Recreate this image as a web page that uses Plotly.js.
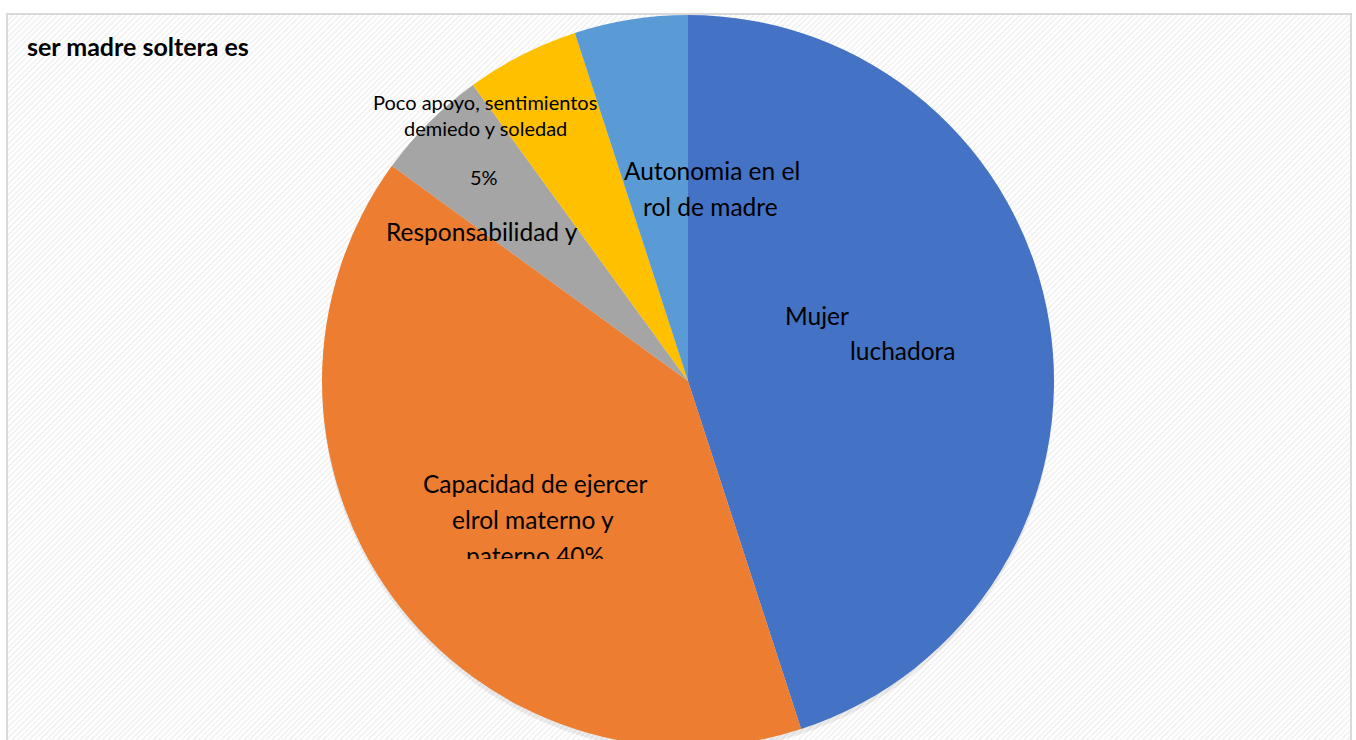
<!DOCTYPE html>
<html><head><meta charset="utf-8">
<script src="https://cdn.plot.ly/plotly-3.0.1.min.js"></script>
<style>
html,body{margin:0;padding:0;width:1356px;height:740px;overflow:hidden;background:#fff}
#frame{position:absolute;left:6px;top:13px;width:1342px;height:760px;border:2px solid #d9d9d9;
background:repeating-linear-gradient(-45deg,#ffffff 0px,#ffffff 2px,#f4f4f4 2px,#f4f4f4 4px);}
#chart{position:absolute;left:0;top:0;width:1356px;height:760px}
</style></head>
<body><div id="frame"></div><div id="chart"></div>
<script>
// Data
const categories = ["Mujer luchadora", "Capacidad de ejercer el rol materno y paterno",
  "Responsabilidad y", "Poco apoyo, sentimientos de miedo y soledad", "Autonomia en el rol de madre"];
const values = [45, 40, 5, 5, 5];
const titleText = "ser madre soltera es";
// Label text lines as shown in the picture
const labelMujer = ["Mujer", "luchadora"];
const labelCapacidad = ["Capacidad de ejercer", "elrol materno y", "paterno 40%"];
const labelResp = ["Responsabilidad y"];
const labelPoco = ["Poco apoyo, sentimientos", "demiedo y soledad"];
const labelPct = ["5%"];
const labelAuto = ["Autonomia en el", "rol de madre"];

const sliceColors = ["#4472C4", "#ED7D31", "#A5A5A5", "#FFC000", "#5B9BD5"];

const W = 1356, H = 760;
const FONT = "Lato, 'Open Sans', sans-serif";
function px(x){return x / W;}
function py(y){return 1 - y / H;}
function ann(text, x, y, size, extra){
  return Object.assign({text: text, x: px(x), y: py(y), xref: 'paper', yref: 'paper',
    xanchor: 'center', yanchor: 'middle', showarrow: false,
    font: {family: FONT, size: size, color: '#000'}}, extra || {});
}
const cx = 688, cy = 381, r = 366;
const BIG = 24.5, SMALL = 20;

const annotations = [
  ann(titleText, 25, 46, 25, {xanchor: 'left', font: {family: FONT, size: 25, color: '#000', weight: 'bold'}}),
  ann(labelPoco[0], 485, 102, SMALL),
  ann(labelPoco[1], 485, 128, SMALL),
  ann(labelPct[0], 484, 177, SMALL),
  ann(labelResp[0], 482, 231, BIG),
  ann(labelAuto[0], 712, 170, BIG),
  ann(labelAuto[1], 710, 206, BIG),
  ann(labelMujer[0], 817, 316, BIG),
  ann(labelMujer[1], 903, 350, BIG),
  ann(labelCapacidad[0], 535, 483, BIG),
  ann(labelCapacidad[1], 533, 519, BIG),
  ann(labelCapacidad[2], 535, 548, BIG, {yanchor: 'top', y: py(539), height: 18, valign: 'top'})
];

const trace = {
  type: 'pie',
  labels: categories,
  values: values,
  sort: false,
  direction: 'clockwise',
  rotation: 0,
  textinfo: 'none',
  hoverinfo: 'none',
  marker: {colors: sliceColors, line: {width: 0}},
  domain: {x: [px(cx - r), px(cx + r)], y: [py(cy + r), py(cy - r)]},
  showlegend: false
};

const layout = {
  width: W, height: H,
  margin: {l: 0, r: 0, t: 0, b: 0},
  paper_bgcolor: 'rgba(0,0,0,0)',
  plot_bgcolor: 'rgba(0,0,0,0)',
  showlegend: false,
  annotations: annotations,
  shapes: [{type: 'circle', xref: 'paper', yref: 'paper', layer: 'below',
    x0: px(cx - r), x1: px(cx + r), y0: py(cy + r + 5), y1: py(cy - r + 3),
    fillcolor: 'rgba(0,0,0,0.07)', line: {width: 0}}]
};

Plotly.newPlot('chart', [trace], layout, {staticPlot: true, displayModeBar: false});
</script>
</body></html>
